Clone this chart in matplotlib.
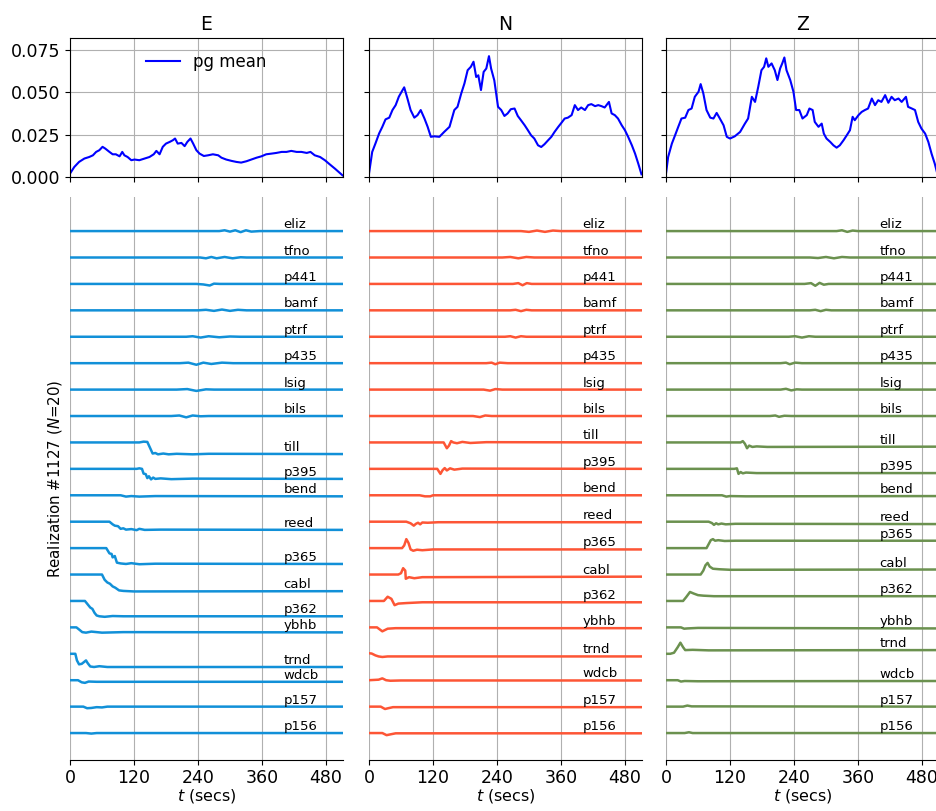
import matplotlib.pyplot as plt
import numpy as np

# pg mean curves (t in secs, value)
e_mean_t = [0, 8, 17, 27, 36, 43, 49, 55, 61, 66, 74, 80, 86, 93, 98, 102, 108, 115, 121, 130, 140, 149, 157, 162, 168,
            174, 180, 187, 193, 197, 202, 209, 215, 220, 226, 231, 237, 243, 251, 259, 268, 278, 284, 293, 303, 312,
            321, 331, 340, 350, 359, 368, 378, 387, 397, 406, 415, 425, 434, 444, 451, 459, 469, 478, 487, 497, 506, 511]
e_mean_v = [0.002, 0.0059, 0.0089, 0.0109, 0.0118, 0.0128, 0.0148, 0.0158, 0.0178, 0.0168, 0.0148, 0.0134, 0.0134,
            0.0122, 0.0148, 0.0128, 0.0118, 0.0099, 0.0103, 0.0099, 0.0109, 0.0118, 0.0134, 0.0154, 0.0134, 0.0178,
            0.0197, 0.0207, 0.0217, 0.0227, 0.0197, 0.0201, 0.0182, 0.0207, 0.0227, 0.0197, 0.0158, 0.0138, 0.0124,
            0.0128, 0.0134, 0.0128, 0.0114, 0.0103, 0.0095, 0.0089, 0.0085, 0.0093, 0.0103, 0.0114, 0.0122, 0.0134,
            0.0138, 0.0142, 0.0148, 0.0148, 0.0154, 0.0148, 0.0148, 0.0142, 0.0148, 0.0128, 0.0118, 0.0099, 0.0075,
            0.0049, 0.0024, 0.001]

n_mean_t = [0, 6, 12, 19, 25, 31, 38, 44, 50, 56, 63, 66, 72, 78, 85, 91, 97, 104, 110, 116, 122, 132, 141, 151, 160,
            166, 173, 179, 185, 191, 196, 201, 205, 210, 215, 220, 225, 229, 235, 242, 248, 254, 260, 266, 273, 279,
            285, 292, 298, 304, 310, 317, 323, 329, 336, 342, 348, 355, 361, 367, 373, 380, 386, 392, 398, 405, 411,
            417, 424, 430, 436, 442, 450, 455, 461, 467, 474, 480, 486, 493, 499, 505, 511]
n_mean_v = [0.002, 0.0148, 0.0197, 0.0257, 0.0296, 0.034, 0.035, 0.0395, 0.0424, 0.0474, 0.0513, 0.0529, 0.0464,
            0.0395, 0.035, 0.0365, 0.0395, 0.0345, 0.0296, 0.0237, 0.024, 0.0237, 0.0266, 0.0296, 0.0395, 0.0414,
            0.0493, 0.0552, 0.063, 0.065, 0.068, 0.059, 0.06, 0.0513, 0.062, 0.064, 0.0713, 0.064, 0.057, 0.0414,
            0.0395, 0.036, 0.0375, 0.04, 0.0404, 0.036, 0.0335, 0.0305, 0.0276, 0.0246, 0.0227, 0.0187, 0.0177,
            0.0193, 0.0217, 0.0237, 0.0266, 0.0296, 0.032, 0.0345, 0.035, 0.0365, 0.0424, 0.0395, 0.041, 0.0395,
            0.0424, 0.043, 0.0418, 0.0424, 0.0418, 0.041, 0.0443, 0.0375, 0.0365, 0.0345, 0.0305, 0.0276, 0.0237,
            0.0187, 0.0138, 0.0079, 0.0016]

z_mean_t = [0, 4, 11, 17, 23, 29, 36, 42, 48, 54, 61, 65, 70, 76, 83, 89, 95, 101, 108, 114, 120, 129, 139, 148, 154,
            161, 167, 173, 179, 184, 188, 192, 198, 204, 209, 214, 218, 222, 226, 233, 239, 244, 250, 256, 264, 269,
            275, 279, 286, 292, 296, 301, 308, 314, 320, 326, 333, 339, 345, 350, 354, 361, 367, 373, 379, 386, 392,
            398, 404, 411, 417, 423, 429, 436, 442, 450, 454, 461, 467, 473, 479, 486, 492, 498, 504, 508]
z_mean_v = [0.002, 0.0118, 0.0197, 0.0246, 0.0296, 0.0345, 0.035, 0.0395, 0.0404, 0.0473, 0.0503, 0.0548, 0.0493,
            0.0395, 0.035, 0.0345, 0.0378, 0.0345, 0.0305, 0.0237, 0.0227, 0.024, 0.0266, 0.0315, 0.0345, 0.0473,
            0.0443, 0.0532, 0.063, 0.065, 0.07, 0.065, 0.067, 0.063, 0.0572, 0.064, 0.067, 0.0705, 0.063, 0.0572,
            0.0503, 0.0395, 0.0395, 0.0345, 0.0365, 0.0404, 0.0395, 0.0325, 0.0296, 0.0315, 0.0256, 0.0227, 0.0207,
            0.0187, 0.0173, 0.0187, 0.0217, 0.0246, 0.0276, 0.0355, 0.0335, 0.0365, 0.0384, 0.0395, 0.0404, 0.0463,
            0.0424, 0.0453, 0.0443, 0.0483, 0.0438, 0.0473, 0.0453, 0.0463, 0.0443, 0.0473, 0.0414, 0.0404, 0.0395,
            0.0325, 0.0286, 0.0256, 0.0207, 0.0138, 0.0079, 0.003]

# stations, top to bottom
stations = ['eliz', 'tfno', 'p441', 'bamf', 'ptrf', 'p435', 'lsig', 'bils', 'till', 'p395',
            'bend', 'reed', 'p365', 'cabl', 'p362', 'ybhb', 'trnd', 'wdcb', 'p157', 'p156']

# displacement knots per station (t secs, disp in trace-spacing units)
e_traces = [
    [(0, 0), (280, 0), (290, 0.03), (300, -0.02), (310, 0.03), (320, -0.04), (330, 0.03), (340, -0.02), (356, 0), (512, 0)],
    [(0, 0), (244, 0), (255, -0.03), (265, 0.02), (275, -0.03), (290, 0.02), (305, -0.03), (320, 0.01), (331, 0), (512, 0)],
    [(0, 0), (237, 0), (250, -0.02), (262, -0.06), (270, 0.01), (281, 0), (512, 0)],
    [(0, 0), (240, 0), (255, 0.02), (270, -0.02), (285, 0.03), (300, -0.02), (315, 0.02), (331, 0), (512, 0)],
    [(0, 0), (218, 0), (230, 0.02), (245, -0.03), (260, 0.02), (280, -0.02), (300, 0.01), (319, 0), (512, 0)],
    [(0, 0), (206, 0), (222, 0.02), (237, -0.06), (250, 0.02), (265, -0.03), (285, 0.02), (306, 0), (512, 0)],
    [(0, 0), (200, 0), (220, 0.02), (237, -0.05), (255, 0.01), (270, 0), (512, 0)],
    [(0, 0), (190, 0), (205, 0.02), (218, -0.05), (230, 0.02), (245, -0.01), (260, 0), (512, 0)],
    [(0, 0), (130, 0), (138, 0.03), (145, 0.02), (150, -0.2), (155, -0.42), (160, -0.4), (165, -0.45), (175, -0.42),
     (185, -0.45), (200, -0.43), (230, -0.45), (260, -0.43), (512, -0.44)],
    [(0, 0), (125, 0), (130, 0.02), (135, 0), (138, -0.18), (142, -0.2), (145, -0.35), (148, -0.28), (152, -0.4),
     (156, -0.33), (160, -0.38), (170, -0.36), (190, -0.39), (230, -0.37), (512, -0.38)],
    [(0, 0), (95, 0), (105, -0.05), (115, -0.03), (130, -0.05), (160, -0.03), (512, -0.04)],
    [(0, 0), (74, 0), (80, -0.1), (84, -0.15), (90, -0.17), (95, -0.27), (100, -0.25), (105, -0.3), (115, -0.28),
     (125, -0.32), (130, -0.27), (140, -0.31), (170, -0.3), (512, -0.31)],
    [(0, 0), (68, 0), (74, -0.2), (78, -0.22), (80, -0.35), (84, -0.3), (88, -0.55), (95, -0.58), (105, -0.6),
     (115, -0.57), (130, -0.61), (160, -0.59), (512, -0.6)],
    [(0, 0), (60, 0), (65, -0.2), (70, -0.3), (75, -0.35), (80, -0.45), (85, -0.5), (92, -0.6), (100, -0.62),
     (120, -0.64), (512, -0.63)],
    [(0, 0), (28, 0), (32, -0.1), (38, -0.25), (42, -0.3), (46, -0.45), (50, -0.55), (55, -0.58), (65, -0.6),
     (80, -0.57), (100, -0.58), (512, -0.58)],
    [(0, 0), (12, 0), (17, -0.08), (23, -0.18), (30, -0.2), (40, -0.16), (60, -0.2), (100, -0.18), (512, -0.19)],
    [(0, 0), (10, 0), (13, -0.25), (17, -0.4), (22, -0.38), (27, -0.3), (30, -0.25), (33, -0.35), (38, -0.48),
     (45, -0.5), (55, -0.47), (70, -0.5), (512, -0.5)],
    [(0, 0), (15, 0), (22, -0.08), (28, -0.1), (35, -0.05), (50, -0.06), (512, -0.06)],
    [(0, 0), (25, 0), (32, -0.06), (40, -0.05), (50, -0.02), (60, -0.03), (70, 0), (512, 0)],
    [(0, 0), (30, 0), (40, -0.02), (50, 0), (512, 0)],
]

n_traces = [
    [(0, 0), (285, 0), (300, -0.03), (315, 0.02), (330, -0.03), (345, 0.02), (360, 0), (512, 0)],
    [(0, 0), (250, 0), (265, 0.02), (280, -0.03), (295, 0.02), (310, 0), (512, 0)],
    [(0, 0), (270, 0), (280, 0.03), (288, -0.05), (296, 0.03), (305, 0), (512, 0)],
    [(0, 0), (265, 0), (275, 0.02), (285, -0.03), (295, 0.02), (305, 0), (512, 0)],
    [(0, 0), (255, 0), (265, 0.02), (275, -0.03), (285, 0.02), (295, 0), (512, 0)],
    [(0, 0), (220, 0), (230, 0.02), (237, -0.04), (245, 0.02), (260, 0), (512, 0)],
    [(0, 0), (215, 0), (227, -0.04), (237, 0.02), (250, 0), (512, 0)],
    [(0, 0), (195, 0), (208, -0.04), (218, 0.02), (230, 0), (512, 0)],
    [(0, 0), (140, 0), (146, -0.22), (150, -0.12), (154, 0.05), (158, 0), (165, -0.03), (175, 0.02), (190, -0.02),
     (220, 0.01), (512, 0)],
    [(0, 0), (128, 0), (134, -0.19), (138, -0.05), (142, 0.03), (146, -0.06), (152, 0.02), (160, -0.03),
     (175, 0.01), (512, 0)],
    [(0, 0), (95, 0), (105, -0.04), (115, -0.04), (120, 0), (512, 0)],
    [(0, 0), (70, 0), (78, -0.06), (84, -0.15), (88, -0.08), (92, -0.04), (96, -0.1), (100, -0.03), (110, -0.04),
     (130, -0.02), (512, -0.02)],
    [(0, 0), (62, 0), (66, 0.1), (70, 0.34), (74, 0.2), (78, -0.05), (83, -0.1), (90, -0.06), (100, -0.08),
     (120, -0.05), (512, -0.05)],
    [(0, 0), (55, 0), (60, 0.05), (64, 0.24), (68, 0.15), (69, -0.16), (75, -0.1), (85, -0.14), (100, -0.1),
     (512, -0.08)],
    [(0, 0), (28, 0), (35, 0.16), (42, 0.08), (48, -0.16), (55, -0.1), (70, -0.08), (100, -0.05), (512, -0.05)],
    [(0, 0), (15, 0), (25, -0.15), (35, -0.05), (50, -0.03), (512, -0.03)],
    [(0, 0.02), (5, 0.01), (12, -0.06), (18, -0.1), (25, -0.12), (35, -0.1), (50, -0.1), (512, -0.1)],
    [(0, 0), (18, 0.02), (25, 0.07), (32, 0), (40, -0.02), (60, -0.01), (512, -0.01)],
    [(0, 0), (22, 0), (30, -0.09), (36, -0.06), (45, -0.02), (512, -0.02)],
    [(0, 0), (25, 0), (33, -0.08), (40, -0.05), (50, -0.01), (512, -0.01)],
]

z_traces = [
    [(0, 0), (320, 0), (330, 0.03), (340, -0.03), (350, 0.02), (360, 0), (512, 0)],
    [(0, 0), (270, 0), (285, -0.02), (300, 0.02), (315, -0.03), (330, 0.02), (345, 0), (512, 0)],
    [(0, 0), (260, 0), (272, 0.03), (280, -0.07), (288, 0.04), (296, -0.03), (305, 0), (512, 0)],
    [(0, 0), (270, 0), (280, 0.02), (290, -0.03), (300, 0.02), (310, 0), (512, 0)],
    [(0, 0), (230, 0), (242, 0.02), (255, -0.03), (268, 0.02), (280, 0), (512, 0)],
    [(0, 0), (215, 0), (225, 0.02), (232, -0.04), (242, 0.02), (255, 0), (512, 0)],
    [(0, 0), (215, 0), (225, 0.03), (235, -0.03), (245, 0.01), (255, 0), (512, 0)],
    [(0, 0), (195, 0), (205, 0.02), (212, -0.03), (222, 0.01), (235, 0), (512, 0)],
    [(0, 0), (140, 0), (144, 0.05), (148, -0.05), (152, -0.22), (156, -0.12), (162, -0.17), (170, -0.15),
     (190, -0.17), (512, -0.16)],
    [(0, 0), (128, 0), (133, 0.02), (136, -0.19), (140, -0.12), (144, -0.17), (150, -0.14), (170, -0.16),
     (512, -0.16)],
    [(0, 0), (105, 0), (113, -0.05), (120, -0.03), (150, -0.04), (512, -0.03)],
    [(0, 0), (80, 0), (86, -0.05), (90, -0.12), (94, -0.06), (98, -0.1), (104, -0.07), (112, -0.1), (130, -0.08),
     (512, -0.09)],
    [(0, 0), (76, 0), (80, 0.15), (84, 0.3), (88, 0.34), (92, 0.28), (98, 0.3), (110, 0.27), (130, 0.28),
     (512, 0.28)],
    [(0, 0), (65, 0), (70, 0.15), (74, 0.35), (78, 0.44), (82, 0.3), (88, 0.22), (100, 0.2), (120, 0.18),
     (512, 0.19)],
    [(0, 0), (32, 0), (38, 0.15), (45, 0.34), (52, 0.28), (60, 0.22), (70, 0.2), (90, 0.18), (512, 0.18)],
    [(0, 0), (28, 0), (34, -0.05), (40, -0.04), (60, -0.02), (512, -0.04)],
    [(0, 0), (8, 0), (15, 0.04), (22, 0.25), (27, 0.42), (32, 0.25), (36, 0.14), (50, 0.15), (80, 0.13),
     (512, 0.14)],
    [(0, 0), (22, 0), (28, -0.05), (35, -0.03), (60, -0.04), (512, -0.03)],
    [(0, 0), (32, 0), (40, 0.04), (48, 0.01), (512, 0)],
    [(0, 0), (35, 0), (43, 0.03), (50, 0), (512, 0)],
]

comps = ['E', 'N', 'Z']
mean_t = [e_mean_t, n_mean_t, z_mean_t]
mean_v = [e_mean_v, n_mean_v, z_mean_v]
traces = [e_traces, n_traces, z_traces]
colors = ['#1190d8', '#fd5535', '#6b914f']
xticks = [0, 120, 240, 360, 480]

W, H = 937, 811
fig = plt.figure(figsize=(W / 100, H / 100), dpi=100)
lefts = [70, 369, 666]
for j in range(3):
    x0 = lefts[j] / W
    w = 273 / W
    ax1 = fig.add_axes([x0, 1 - 177 / H, w, 139 / H])
    ax2 = fig.add_axes([x0, 1 - 760 / H, w, 563 / H])

    ax1.plot(mean_t[j], mean_v[j], color='blue', lw=1.5, label='pg mean')
    ax1.set_xlim(0, 512)
    ax1.set_ylim(0, 0.082)
    ax1.set_xticks(xticks)
    ax1.set_xticklabels([])
    ax1.set_yticks([0, 0.025, 0.05, 0.075])
    if j == 0:
        ax1.set_yticklabels(['0.000', '0.025', '0.050', '0.075'])
        ax1.legend(loc='upper center', frameon=False, fontsize=12)
    else:
        ax1.set_yticklabels([])
    ax1.grid(True, color='#b0b0b0', lw=0.8)
    ax1.set_axisbelow(True)
    ax1.tick_params(labelsize=12.5)
    ax1.set_title(comps[j], fontsize=13.5)

    n = len(stations)
    for i, name in enumerate(stations):
        off = n - 1 - i
        tt = [p[0] for p in traces[j][i]]
        dd = [off + p[1] for p in traces[j][i]]
        ax2.plot(tt, dd, color=colors[j], lw=1.8)
        ax2.text(400, dd[-1], name, fontsize=9.5, ha='left', va='bottom')
    ax2.set_xlim(0, 512)
    ax2.set_ylim(-1.02, n - 1 + 1.29)
    ax2.set_xticks(xticks)
    ax2.set_yticks([])
    ax2.grid(True, axis='x', color='#b0b0b0', lw=0.8)
    ax2.set_axisbelow(True)
    for s in ['top', 'right', 'left']:
        ax2.spines[s].set_visible(False)
    ax2.tick_params(labelsize=12.5, pad=3)
    ax2.set_xlabel('$t$ (secs)', fontsize=11.5, labelpad=0)
    if j == 0:
        ax2.set_ylabel('Realization #1127 ($N$=20)', fontsize=10.8)

fig.savefig('out.png', dpi=100)
